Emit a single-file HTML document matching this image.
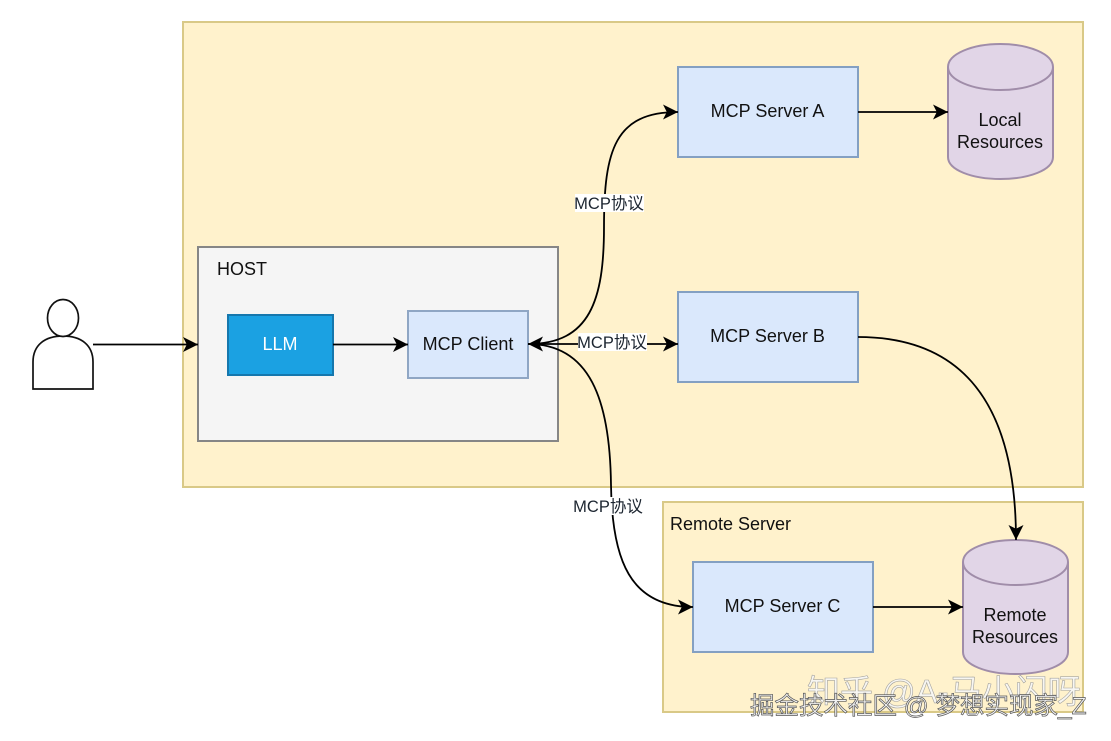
<!DOCTYPE html>
<html><head><meta charset="utf-8">
<style>
html,body{margin:0;padding:0;background:#fff;width:1111px;height:741px;overflow:hidden}
svg{display:block}
text{font-family:"Liberation Sans","Noto Sans CJK SC",sans-serif;fill:#111;font-size:18px}
.m{text-anchor:middle}
.l{font-size:16.5px;fill:#1c2530}
.wm{font-size:33px;fill:#f7f7f7;stroke:#9a9a9a;stroke-width:.6px;opacity:.9}
.wm2{font-size:24.5px;fill:#f2f2f2;stroke:#555;stroke-width:.7px}
</style></head><body>
<svg width="1111" height="741" viewBox="0 0 1111 741" xmlns="http://www.w3.org/2000/svg">
<defs>
<marker id="a" markerUnits="userSpaceOnUse" markerWidth="18" markerHeight="16" refX="15" refY="7.5" orient="auto"><path d="M0 0L15 7.500L0 15L3.800 7.500Z" fill="#000"/></marker>
</defs>
<rect x="183" y="22" width="900" height="465" fill="#fff2cc" stroke="#d9c987" stroke-width="2"/>
<rect x="663" y="502" width="420" height="210" fill="#fff2cc" stroke="#d9c987" stroke-width="2"/>
<rect x="198" y="247" width="360" height="194" fill="#f5f5f5" stroke="#868686" stroke-width="2"/>
<text x="217" y="275">HOST</text>
<text x="670" y="530">Remote Server</text>

<!-- person -->
<path d="M33 389V362C33 345 45 336 63 336C81 336 93 345 93 362V389Z" fill="#fff" stroke="#111" stroke-width="1.7"/>
<ellipse cx="63" cy="318" rx="15.500" ry="18.500" fill="#fff" stroke="#111" stroke-width="1.7"/>

<!-- boxes -->
<rect x="228" y="315" width="105" height="60" fill="#1ba1e2" stroke="#1577ad" stroke-width="2"/>
<text x="280" y="350" class="m" style="fill:#fff">LLM</text>
<rect x="408" y="311" width="120" height="67" fill="#dae8fc" stroke="#8fa6c4" stroke-width="2"/>
<text x="468" y="350" class="m">MCP Client</text>
<rect x="678" y="67" width="180" height="90" fill="#dae8fc" stroke="#84a0c2" stroke-width="2"/>
<text x="767.500" y="117" class="m">MCP Server A</text>
<rect x="678" y="292" width="180" height="90" fill="#dae8fc" stroke="#84a0c2" stroke-width="2"/>
<text x="767.500" y="342" class="m">MCP Server B</text>
<rect x="693" y="562" width="180" height="90" fill="#dae8fc" stroke="#84a0c2" stroke-width="2"/>
<text x="782.500" y="612" class="m">MCP Server C</text>

<!-- cylinders -->
<path d="M948 67V157C948 170 972 179 1000.500 179C1029 179 1053 170 1053 157V67C1053 54 1029 44 1000.500 44C972 44 948 54 948 67Z" fill="#e1d5e7" stroke="#a08da9" stroke-width="2"/>
<path d="M948 67C948 80 972 90 1000.500 90C1029 90 1053 80 1053 67" fill="none" stroke="#a08da9" stroke-width="2"/>
<text x="1000" y="126" class="m">Local</text>
<text x="1000" y="148" class="m">Resources</text>
<path d="M963 562V652C963 665 987 674 1015.500 674C1044 674 1068 665 1068 652V562C1068 549 1044 540 1015.500 540C987 540 963 549 963 562Z" fill="#e1d5e7" stroke="#a08da9" stroke-width="2"/>
<path d="M963 562C963 575 987 585 1015.500 585C1044 585 1068 575 1068 562" fill="none" stroke="#a08da9" stroke-width="2"/>
<text x="1015" y="621" class="m">Remote</text>
<text x="1015" y="643" class="m">Resources</text>

<!-- connectors -->
<g fill="none" stroke="#000" stroke-width="1.800">
<path d="M93 344.500H198" marker-end="url(#a)"/>
<path d="M333 344.500H408" marker-end="url(#a)"/>
<path d="M858 112H948" marker-end="url(#a)"/>
<path d="M873 607H963" marker-end="url(#a)"/>
<path d="M858 337C960 337 1016 400 1016 540" marker-end="url(#a)"/>
<path d="M604 227C604 150 615 112 678 112" marker-end="url(#a)"/>
<path d="M604 227C604 300 590 344 528 344" marker-end="url(#a)"/>
<path d="M528 344H678" marker-end="url(#a)"/>
<path d="M528 344C590 344 610 400 611 485C612 560 630 607 693 607" marker-end="url(#a)"/>
</g>

<!-- connector labels -->
<rect x="575" y="194" width="69" height="18" fill="#fff"/>
<text x="609" y="209" class="m l">MCP协议</text>
<rect x="578" y="333" width="69" height="18" fill="#fff"/>
<text x="612" y="348" class="m l">MCP协议</text>
<rect x="573" y="497" width="69" height="18" fill="#fff"/>
<text x="608" y="512" class="m l">MCP协议</text>

<!-- watermarks -->
<text x="807" y="703" class="wm">知乎 @A-马小闪呀</text>
<text x="750" y="714" class="wm2">掘金技术社区 @ 梦想实现家_Z</text>
</svg>
</body></html>
